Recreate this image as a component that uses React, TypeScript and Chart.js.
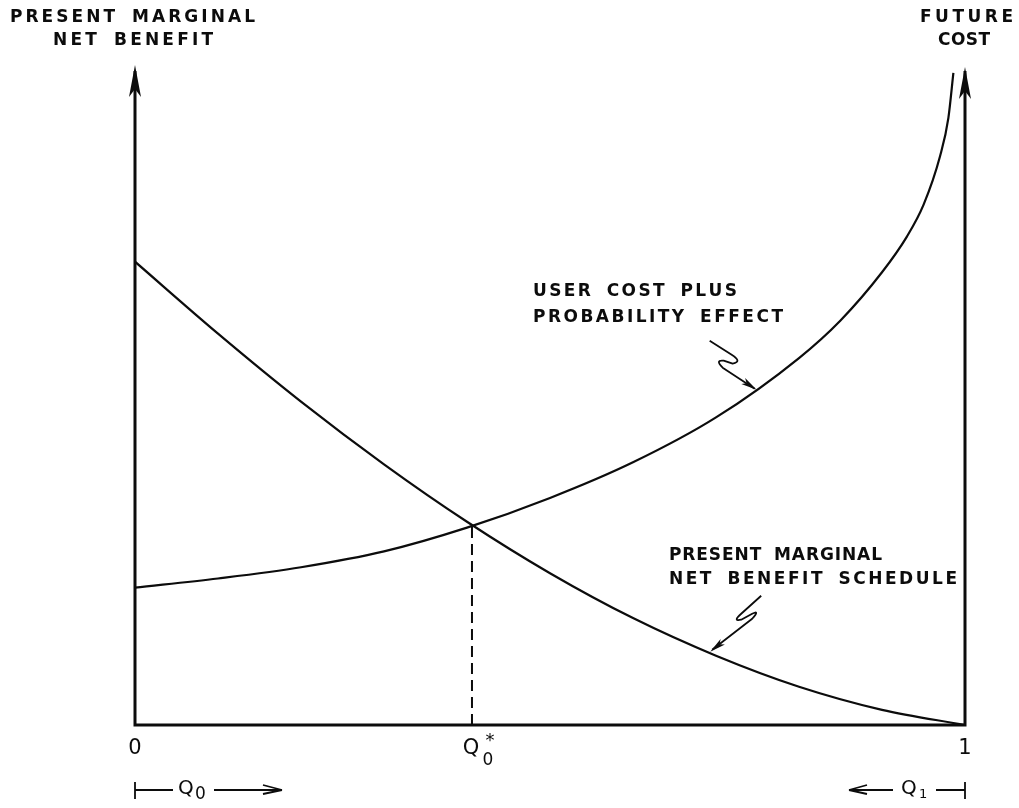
import React, { useEffect, useRef } from "react";
import { Chart, registerables } from "chart.js";

Chart.register(...registerables);

// ---- data (x: share of stock 0..1, y: value units) ----
const benefitX = [0, 0.1, 0.2, 0.3, 0.4, 0.5, 0.6, 0.7, 0.8, 0.9, 1.0];
const benefitY = [7.02, 5.93, 4.9, 3.95, 3.08, 2.3, 1.62, 1.05, 0.58, 0.23, 0];
const costX = [0, 0.1, 0.2, 0.3, 0.4, 0.5, 0.6, 0.7, 0.8, 0.85, 0.9, 0.93, 0.95, 0.97, 0.98, 0.986];
const costY = [2.08, 2.22, 2.39, 2.63, 2.99, 3.44, 3.98, 4.66, 5.56, 6.13, 6.86, 7.4, 7.88, 8.62, 9.2, 9.88];
const optimumX = 0.406;
const optimumY = 3.03;
const xTickValues = [0, optimumX, 1];
const xTickMain = ["0", "Q", "1"];
const xTickSub = ["", "0", ""];
const xTickSup = ["", "*", ""];
const leftAxisTitle = ["PRESENT MARGINAL", "NET BENEFIT"];
const rightAxisTitle = ["FUTURE", "COST"];
const costLabel = ["USER COST PLUS", "PROBABILITY EFFECT"];
const benefitLabel = ["PRESENT MARGINAL", "NET BENEFIT SCHEDULE"];
const costPointer = { x: 0.749, y: 5.08 };
const benefitPointer = { x: 0.693, y: 1.11 };
const yMax = 10;

const INK = "#0c0c0c";
const FONT = "'DejaVu Sans', 'Liberation Sans', sans-serif";
const LABEL_FONT = `bold 17px ${FONT}`;

function spaced(ctx: CanvasRenderingContext2D, text: string, x: number, y: number, width: number) {
  const chars = [...text];
  const widths = chars.map((c) => (c === " " ? 11 : ctx.measureText(c).width));
  const total = widths.reduce((a, b) => a + b, 0);
  const gap = chars.length > 1 ? (width - total) / (chars.length - 1) : 0;
  let cx = x;
  chars.forEach((c, i) => {
    if (c !== " ") ctx.fillText(c, cx, y);
    cx += widths[i] + gap;
  });
}

function arrowHeadFilled(ctx: CanvasRenderingContext2D, tx: number, ty: number, fx: number, fy: number, len: number, half: number) {
  const dx = tx - fx, dy = ty - fy;
  const d = Math.hypot(dx, dy);
  const ux = dx / d, uy = dy / d;
  const bx = tx - ux * len, by = ty - uy * len;
  const mx = tx - ux * len * 0.75, my = ty - uy * len * 0.75;
  ctx.beginPath();
  ctx.moveTo(tx, ty);
  ctx.lineTo(bx - uy * half, by + ux * half);
  ctx.lineTo(mx, my);
  ctx.lineTo(bx + uy * half, by - ux * half);
  ctx.closePath();
  ctx.fill();
}

const decorPlugin = {
  id: "decor",
  afterDraw(chart: any) {
    const { ctx } = chart;
    const xs = chart.scales.x;
    const ys = chart.scales.y;
    const x0 = xs.getPixelForValue(0);
    const x1 = xs.getPixelForValue(1);
    const yb = ys.getPixelForValue(0);
    const yt = ys.getPixelForValue(yMax);
    ctx.save();
    ctx.strokeStyle = INK;
    ctx.fillStyle = INK;
    ctx.lineCap = "butt";

    // axes
    ctx.lineWidth = 3;
    ctx.beginPath();
    ctx.moveTo(x0, yt + 6);
    ctx.lineTo(x0, yb);
    ctx.lineTo(x1, yb);
    ctx.lineTo(x1, yt + 6);
    ctx.stroke();
    arrowHeadFilled(ctx, x0, yt, x0, yt + 40, 32, 6);
    arrowHeadFilled(ctx, x1, yt + 2, x1, yt + 40, 32, 6);

    // axis titles
    ctx.textBaseline = "middle";
    ctx.textAlign = "left";
    ctx.font = LABEL_FONT;
    spaced(ctx, leftAxisTitle[0], 10, 18, 245);
    spaced(ctx, leftAxisTitle[1], 53, 41, 160);
    spaced(ctx, rightAxisTitle[0], 920, 18, 93);
    spaced(ctx, rightAxisTitle[1], 938, 41, 52);

    // curve labels
    spaced(ctx, costLabel[0], 533, 292, 204);
    spaced(ctx, costLabel[1], 533, 318, 250);
    spaced(ctx, benefitLabel[0], 669, 556, 213);
    spaced(ctx, benefitLabel[1], 669, 580, 288);

    // pointer squiggles
    ctx.lineWidth = 1.8;
    ctx.lineJoin = "round";
    {
      const tx = xs.getPixelForValue(costPointer.x);
      const ty = ys.getPixelForValue(costPointer.y);
      ctx.beginPath();
      ctx.moveTo(tx - 47, ty - 49);
      ctx.lineTo(tx - 25, ty - 35);
      ctx.quadraticCurveTo(tx - 14, ty - 28, tx - 24, ty - 26);
      ctx.lineTo(tx - 33, ty - 29);
      ctx.quadraticCurveTo(tx - 42, ty - 30, tx - 34, ty - 22);
      ctx.lineTo(tx - 2, ty - 1);
      ctx.stroke();
      arrowHeadFilled(ctx, tx, ty, tx - 34, ty - 22, 16, 3.5);
    }
    {
      const tx = xs.getPixelForValue(benefitPointer.x);
      const ty = ys.getPixelForValue(benefitPointer.y);
      ctx.beginPath();
      ctx.moveTo(tx + 51, ty - 56);
      ctx.lineTo(tx + 31, ty - 38);
      ctx.quadraticCurveTo(tx + 22, ty - 30, tx + 31, ty - 32);
      ctx.lineTo(tx + 42, ty - 38);
      ctx.quadraticCurveTo(tx + 50, ty - 42, tx + 42, ty - 33);
      ctx.lineTo(tx + 2, ty - 2);
      ctx.stroke();
      arrowHeadFilled(ctx, tx, ty, tx + 42, ty - 33, 16, 3.5);
    }

    // tick labels
    xTickValues.forEach((v, i) => {
      const px = xs.getPixelForValue(v);
      ctx.font = `21px ${FONT}`;
      ctx.textAlign = "center";
      if (!xTickSub[i]) {
        ctx.fillText(xTickMain[i], px, yb + 24);
      } else {
        ctx.fillText(xTickMain[i], px - 1, yb + 24);
        ctx.font = `17px ${FONT}`;
        ctx.fillText(xTickSub[i], px + 16, yb + 36);
        ctx.font = `18px ${FONT}`;
        ctx.fillText(xTickSup[i], px + 18, yb + 16);
      }
    });

    // bottom brackets Q0 -> and <- Q1
    const by = yb + 65;
    ctx.lineWidth = 1.8;
    ctx.beginPath();
    ctx.moveTo(x0, by - 8);
    ctx.lineTo(x0, by + 9);
    ctx.moveTo(x0, by);
    ctx.lineTo(x0 + 38, by);
    ctx.moveTo(x0 + 79, by);
    ctx.lineTo(x0 + 147, by);
    ctx.moveTo(x0 + 147, by);
    ctx.lineTo(x0 + 128, by - 5);
    ctx.moveTo(x0 + 147, by);
    ctx.lineTo(x0 + 128, by + 4);
    ctx.stroke();
    ctx.font = `20px ${FONT}`;
    ctx.textAlign = "left";
    ctx.fillText("Q", x0 + 43, by - 1);
    ctx.font = `17px ${FONT}`;
    ctx.fillText("0", x0 + 60, by + 5);

    ctx.beginPath();
    ctx.moveTo(x1, by - 8);
    ctx.lineTo(x1, by + 9);
    ctx.moveTo(x1, by);
    ctx.lineTo(x1 - 29, by);
    ctx.moveTo(x1 - 72, by);
    ctx.lineTo(x1 - 116, by);
    ctx.moveTo(x1 - 116, by);
    ctx.lineTo(x1 - 98, by - 5);
    ctx.moveTo(x1 - 116, by);
    ctx.lineTo(x1 - 98, by + 4);
    ctx.stroke();
    ctx.font = `20px ${FONT}`;
    ctx.fillText("Q", x1 - 64, by - 1);
    ctx.font = `13px ${FONT}`;
    ctx.fillText("1", x1 - 46, by + 5);

    ctx.restore();
  },
};

export default function App() {
  const ref = useRef<HTMLCanvasElement | null>(null);
  useEffect(() => {
    if (!ref.current) return;
    const chart = new Chart(ref.current, {
      type: "scatter",
      data: {
        datasets: [
          {
            label: "Present marginal net benefit schedule",
            data: benefitX.map((x, i) => ({ x, y: benefitY[i] })),
            showLine: true,
            borderColor: INK,
            borderWidth: 2.2,
            pointRadius: 0,
            cubicInterpolationMode: "monotone",
          },
          {
            label: "User cost plus probability effect",
            data: costX.map((x, i) => ({ x, y: costY[i] })),
            showLine: true,
            borderColor: INK,
            borderWidth: 2.2,
            pointRadius: 0,
            cubicInterpolationMode: "monotone",
          },
          {
            label: "Q0*",
            data: [
              { x: optimumX, y: 0 },
              { x: optimumX, y: optimumY },
            ],
            showLine: true,
            borderColor: INK,
            borderWidth: 2,
            borderDash: [11, 6],
            pointRadius: 0,
          },
        ],
      },
      options: {
        animation: false,
        responsive: false,
        maintainAspectRatio: false,
        layout: { padding: { left: 135, right: 54, top: 65, bottom: 83 } },
        plugins: { legend: { display: false }, tooltip: { enabled: false } },
        scales: {
          x: { type: "linear", min: 0, max: 1, display: false },
          y: { type: "linear", min: 0, max: yMax, display: false },
        },
      },
      plugins: [decorPlugin],
    } as any);
    return () => chart.destroy();
  }, []);
  return (
    <div style={{ position: "fixed", left: 0, top: 0, width: 1019, height: 808, background: "#fff" }}>
      <canvas ref={ref} width={1019} height={808} />
    </div>
  );
}
